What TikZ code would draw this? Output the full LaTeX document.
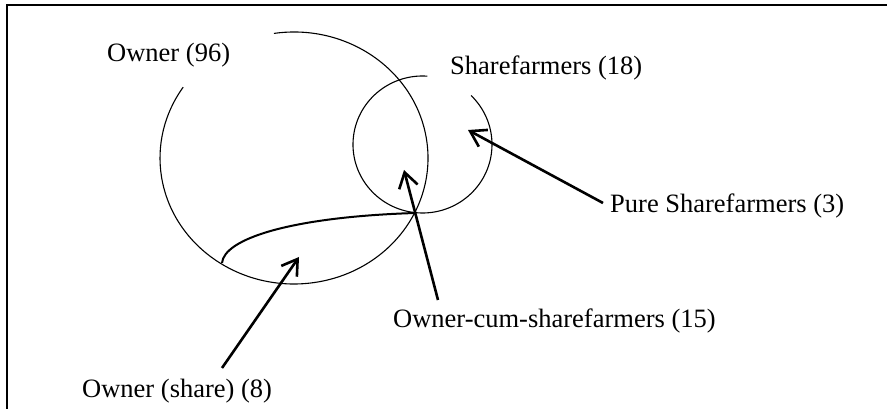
\documentclass[tikz,border=0pt]{standalone}
\usepackage{fontspec}
\setmainfont{Liberation Serif}
\usetikzlibrary{arrows.meta}
\begin{document}
\begin{tikzpicture}[x=1pt,y=1pt,
  lbl/.style={anchor=base west,inner sep=0pt,font=\fontsize{26.5}{30}\selectfont},
  setline/.style={line width=1.1pt},
  pointer/.style={line width=2.6pt,-{Straight Barb[length=15pt,width=19pt]}},
  loopline/.style={line width=2pt}]
\useasboundingbox (0,0) rectangle (887,409);
% frame
\draw[line width=2pt] (887,404) -- (7,404) -- (7,0);
% centres
\coordinate (oc) at (294,251);
\coordinate (sc) at (422.5,264.5);
% Owner set
\draw[setline] (oc) ++(98.6:134pt and 126pt)
  arc[start angle=98.6,end angle=-214.2,x radius=134pt,y radius=126pt];
% Sharefarmer set
\draw[setline] (sc) ++(86:69.5pt and 68.5pt)
  arc[start angle=86,end angle=405.7,x radius=69.5pt,y radius=68.5pt];
% Owner (share) loop
\coordinate (la) at (222,146);
\coordinate (lb) at (415,196);
\draw[loopline] (la) .. controls (224,170) and (290,192) .. (lb);
% labels
\node[lbl] (own) at (107,347) {Owner (96)};
\node[lbl] (shr) at (450,334) {Sharefarmers (18)};
\node[lbl] (pure) at (610,196) {Pure Sharefarmers (3)};
\node[lbl] (ocs) at (393,81) {Owner-cum-sharefarmers (15)};
\node[lbl] (osh) at (82,11) {Owner (share) (8)};
% arrows
\coordinate (t1) at (222,41);  \coordinate (h1) at (299,152);
\coordinate (t2) at (438,109); \coordinate (h2) at (404,239);
\coordinate (t3) at (603,206); \coordinate (h3) at (468,279);
\draw[pointer] (t1) -- (h1);
\draw[pointer] (t2) -- (h2);
\draw[pointer] (t3) -- (h3);
\end{tikzpicture}
\end{document}
